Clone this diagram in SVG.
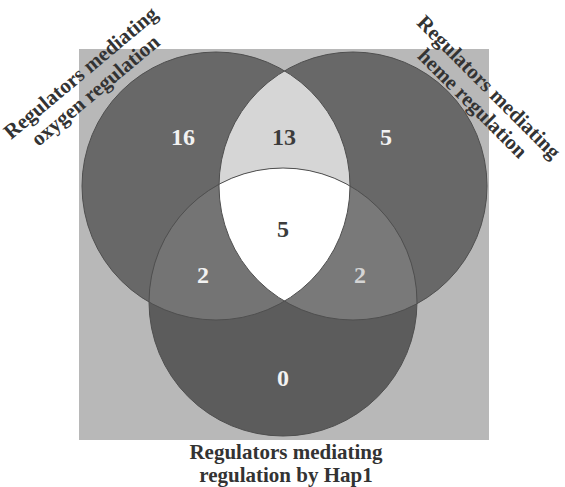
<svg xmlns="http://www.w3.org/2000/svg" width="565" height="487" viewBox="0 0 565 487">
<style>
.lbl{font-family:"Liberation Serif","Times New Roman",serif;font-weight:bold;font-size:21px;fill:#333;text-anchor:middle}
.num{font-family:"Liberation Serif","Times New Roman",serif;font-weight:bold;font-size:24px;text-anchor:middle}
.lt{fill:#f2f2f2}
.dk{fill:#3c3c3c}
.edge{fill:none;stroke:#4f4f4f;stroke-width:1}
</style>
<defs>
<clipPath id="cL"><circle cx="216" cy="186" r="134"/></clipPath>
<clipPath id="cR"><circle cx="353" cy="186" r="134"/></clipPath>
<clipPath id="cB"><circle cx="283" cy="302" r="134"/></clipPath>
</defs>
<rect x="79" y="49" width="410" height="391" fill="#b8b8b8"/>
<g id="oxygen">
<circle cx="216" cy="186" r="134" fill="#686868"/>
</g>
<g id="heme">
<circle cx="353" cy="186" r="134" fill="#686868"/>
</g>
<g id="hap1">
<circle cx="283" cy="302" r="134" fill="#5c5c5c"/>
</g>
<g id="overlaps">
<g clip-path="url(#cL)"><circle cx="353" cy="186" r="134" fill="#d6d6d6"/></g>
<g clip-path="url(#cL)"><circle cx="283" cy="302" r="134" fill="#747474"/></g>
<g clip-path="url(#cR)"><circle cx="283" cy="302" r="134" fill="#797979"/></g>
<g clip-path="url(#cL)"><g clip-path="url(#cR)"><circle cx="283" cy="302" r="134" fill="#ffffff"/></g></g>
</g>
<g id="outlines">
<circle class="edge" cx="216" cy="186" r="134"/>
<circle class="edge" cx="353" cy="186" r="134"/>
<circle class="edge" cx="283" cy="302" r="134"/>
</g>
<g id="counts">
<text class="num lt" x="183" y="145">16</text>
<text class="num dk" x="284" y="145">13</text>
<text class="num lt" x="386" y="145">5</text>
<text class="num dk" x="283" y="237">5</text>
<text class="num lt" x="203" y="283">2</text>
<text class="num lt" x="360" y="283" style="fill:#d4d4d4">2</text>
<text class="num lt" x="283" y="386">0</text>
</g>
<g id="label-oxygen" transform="translate(85,78) rotate(-40)">
<text class="lbl" x="0" y="0">Regulators mediating</text>
<text class="lbl" x="0" y="23">oxygen regulation</text>
</g>
<g id="label-heme" transform="translate(484,92) rotate(45)">
<text class="lbl" x="0" y="0">Regulators mediating</text>
<text class="lbl" x="0" y="23">heme regulation</text>
</g>
<g id="label-hap1">
<text class="lbl" x="286" y="459">Regulators mediating</text>
<text class="lbl" x="286" y="482">regulation by Hap1</text>
</g>
</svg>
